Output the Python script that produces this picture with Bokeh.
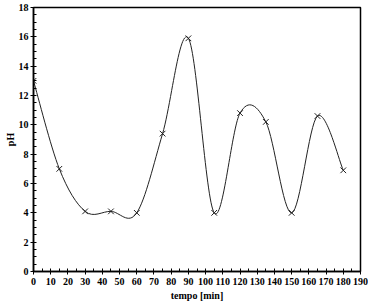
import numpy as np
from bokeh.plotting import figure
from bokeh.models import Range1d, FixedTicker
from bokeh.embed import file_html
from bokeh.resources import INLINE

tempo = [0, 15, 30, 45, 60, 75, 90, 105, 120, 135, 150, 165, 180]
ph = [13.0, 7.0, 4.1, 4.1, 4.0, 9.4, 15.9, 4.0, 10.8, 10.2, 4.0, 10.6, 6.9]
x_ticks = list(range(0, 191, 10))
y_ticks = list(range(0, 19, 2))

# smoothed line (cardinal / Catmull-Rom style Bezier segments from the data)
x = np.asarray(tempo, float)
y = np.asarray(ph, float)
xp = np.concatenate([[x[0]], x, [x[-1]]])
yp = np.concatenate([[y[0]], y, [y[-1]]])
n = len(x) - 1
x0, y0 = x[:-1], y[:-1]
x1, y1 = x[1:], y[1:]
cx0 = x0 + (xp[2:n + 2] - xp[0:n]) / 6
cy0 = y0 + (yp[2:n + 2] - yp[0:n]) / 6
cx1 = x1 - (xp[3:n + 3] - xp[1:n + 1]) / 6
cy1 = y1 - (yp[3:n + 3] - yp[1:n + 1]) / 6

p = figure(width=368, height=303, output_backend="svg", toolbar_location=None,
           x_range=Range1d(0, 190), y_range=Range1d(0, 18),
           min_border_left=33, min_border_right=8, min_border_top=7,
           min_border_bottom=32)
p.grid.visible = False
p.background_fill_color = "white"
p.border_fill_color = "white"
p.outline_line_color = "black"
p.outline_line_width = 1.5

p.bezier(x0=x0, y0=y0, x1=x1, y1=y1, cx0=cx0, cy0=cy0, cx1=cx1, cy1=cy1,
         line_color="#222222", line_width=1)
p.scatter(tempo, ph, marker="x", size=8, line_color="#222222", line_width=1)

font = "Liberation Serif"
for ax in (p.xaxis[0], p.yaxis[0]):
    ax.axis_line_color = "black"
    ax.axis_line_width = 1.5
    ax.major_tick_line_color = "black"
    ax.minor_tick_line_color = "black"
    ax.major_tick_line_width = 1
    ax.major_tick_in = 3
    ax.major_tick_out = 3
    ax.minor_tick_in = 3
    ax.minor_tick_out = 0
    ax.major_label_text_font = font
    ax.major_label_text_font_style = "bold"
    ax.major_label_text_font_size = "10px"
    ax.major_label_text_color = "black"
    ax.axis_label_text_font = font
    ax.axis_label_text_font_style = "bold"
    ax.axis_label_text_font_size = "10px"
    ax.axis_label_text_color = "black"
    ax.major_label_standoff = 3

p.xaxis.ticker = FixedTicker(ticks=x_ticks, minor_ticks=list(range(5, 190, 10)))
p.yaxis.ticker = FixedTicker(ticks=y_ticks,
                             minor_ticks=[v / 2 for v in range(0, 37) if v % 4 != 0])
p.xaxis.axis_label = "tempo [min]"
p.yaxis.axis_label = "pH"
p.xaxis.axis_label_standoff = 2
p.yaxis.axis_label_standoff = 0
p.yaxis.major_label_standoff = 2

open("out.html", "w").write(file_html(p, INLINE))
